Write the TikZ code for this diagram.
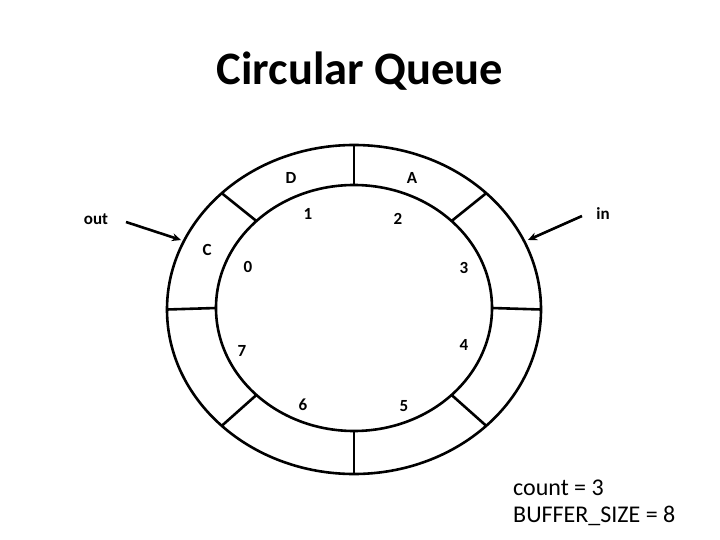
\documentclass[tikz,border=0pt]{standalone}
\usepackage{fontspec}
\setmainfont{Carlito}
\usetikzlibrary{arrows.meta}
\begin{document}
\begin{tikzpicture}[x=1pt,y=-1pt,
  ring/.style={line width=2.6pt},
  lbl/.style={font=\fontsize{17}{19}\selectfont\bfseries, inner sep=0pt},
  ptr/.style={line width=2.6pt, -{Stealth[length=9pt,width=8pt]}},
  info/.style={font=\fontsize{24}{27}\selectfont, inner sep=0pt, anchor=west}]
\useasboundingbox[fill=white] (0,0) rectangle (720,540);
% title
\node[font=\fontsize{46.5}{50}\selectfont\bfseries, inner sep=0pt] (title) at (360,71) {Circular Queue};
% ring
\draw[ring] (354,309.5) ellipse [x radius=187pt, y radius=164.5pt];
\draw[ring] (354,308) ellipse [x radius=138pt, y radius=123pt];
\foreach \a in {0,45,...,315}{
  \draw[ring] ({354+138*cos(\a)},{308+123*sin(\a)}) -- ({354+187*cos(\a)},{309.5+164.5*sin(\a)});
}
% contents
\node[lbl] (D) at (291,178) {D};
\node[lbl] (A) at (412,178) {A};
\node[lbl] (C) at (207,250) {C};
% indices
\node[lbl] (i1) at (308,214) {1};
\node[lbl] (i2) at (398,219) {2};
\node[lbl] (i0) at (248,267) {0};
\node[lbl] (i3) at (464,268) {3};
\node[lbl] (i4) at (464,345) {4};
\node[lbl] (i7) at (242,351) {7};
\node[lbl] (i6) at (303,405) {6};
\node[lbl] (i5) at (404,406) {5};
% pointers
\node[lbl] (out) at (96,219) {out};
\node[lbl] (in) at (603,214) {in};
\coordinate (outs) at (126,222);
\coordinate (oute) at (181,240);
\coordinate (ins) at (582,216);
\coordinate (ine) at (528,240);
\draw[ptr] (outs) -- (oute);
\draw[ptr] (ins) -- (ine);
% info
\node[info] (count) at (513,488) {count = 3};
\node[info] (size) at (513,516) {BUFFER\_SIZE = 8};
\end{tikzpicture}
\end{document}
